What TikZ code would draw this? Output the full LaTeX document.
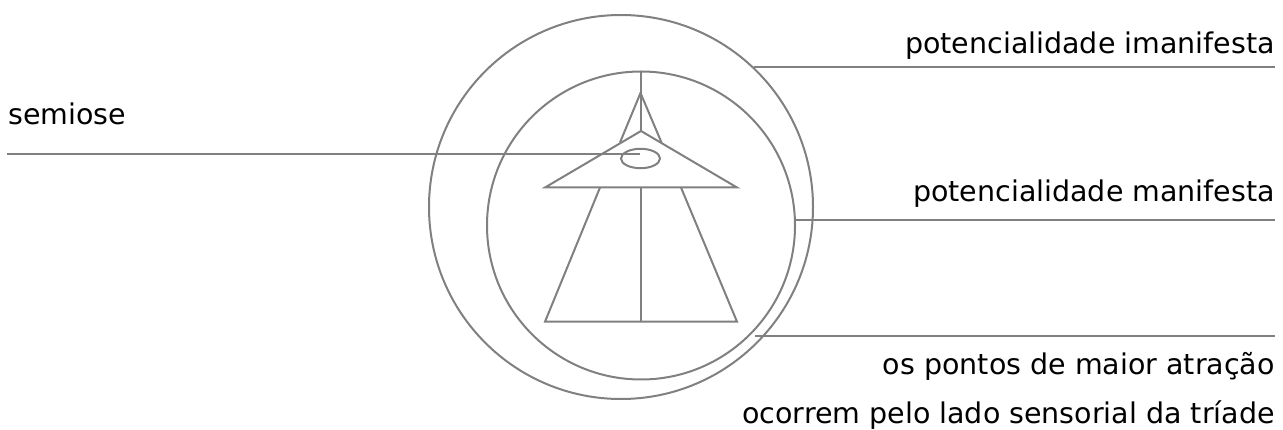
\documentclass[tikz,border=0pt]{standalone}
\usepackage{fontspec}
\setmainfont{DejaVu Sans}
\definecolor{linegray}{RGB}{128,128,128}
\begin{document}
\begin{tikzpicture}[x=1pt,y=-1pt,
  ln/.style={draw=linegray, line width=2pt, line join=miter},
  ring/.style={circle, draw=linegray, line width=2pt, inner sep=0pt, outer sep=0pt},
  lbl/.style={inner sep=0pt, font=\fontsize{28.5}{34}\selectfont, text=black}]
\useasboundingbox (0,0) rectangle (1283,430);
% circles
\node[ring, minimum size=384pt] (outer) at (621,207) {};
\node[ring, minimum size=308pt] (inner) at (641,225.5) {};
% labels
\node[lbl, anchor=base east] (imanif) at (1275,54) {potencialidade imanifesta};
\node[lbl, anchor=base west] (semiose) at (8,125) {semiose};
\node[lbl, anchor=base east] (manif) at (1275,202) {potencialidade manifesta};
\node[lbl, anchor=base east] (pontos) at (1275,374) {os pontos de maior atração};
\node[lbl, anchor=base east] (ocorrem) at (1275,424) {ocorrem pelo lado sensorial da tríade};
% coordinates
\coordinate (eyec) at (640.5,158.5);
\coordinate (eyein) at (640,154.3);
\coordinate (semL) at (7,154.3);
\coordinate (imR) at (1275,67);
\coordinate (mR) at (1275,220);
\coordinate (pR) at (1275,335.7);
\coordinate (pL) at (755,335.7);
% triad figure
\coordinate (top) at (641,72);
\coordinate (spike) at (640.5,93);
\coordinate (apex) at (641,131);
\coordinate (bl) at (545,187.5);
\coordinate (br) at (737,187.5);
\coordinate (bm) at (641,187.5);
\coordinate (sl) at (620,142.5);
\coordinate (sr) at (661.5,142.5);
\coordinate (tl) at (600,187.5);
\coordinate (tr) at (681,187.5);
\coordinate (ql) at (545,321.7);
\coordinate (qr) at (737,321.7);
\coordinate (qm) at (641,321.7);
\draw[ln] (top) -- (apex);
\draw[ln] (sl) -- (spike) -- (sr);
\draw[ln] (apex) -- (bl) -- (br) -- cycle;
\draw[ln] (tl) -- (ql) -- (qr) -- (tr);
\draw[ln] (bm) -- (qm);
\draw[ln] (eyec) ellipse [x radius=19.5, y radius=9.7];
% leader lines
\draw[ln] (semL) -- (eyein);
\draw[ln] (outer.46.8 |- imR) -- (imR);
\draw[ln] (inner.2 |- mR) -- (mR);
\draw[ln] (pL) -- (pR);
\end{tikzpicture}
\end{document}
